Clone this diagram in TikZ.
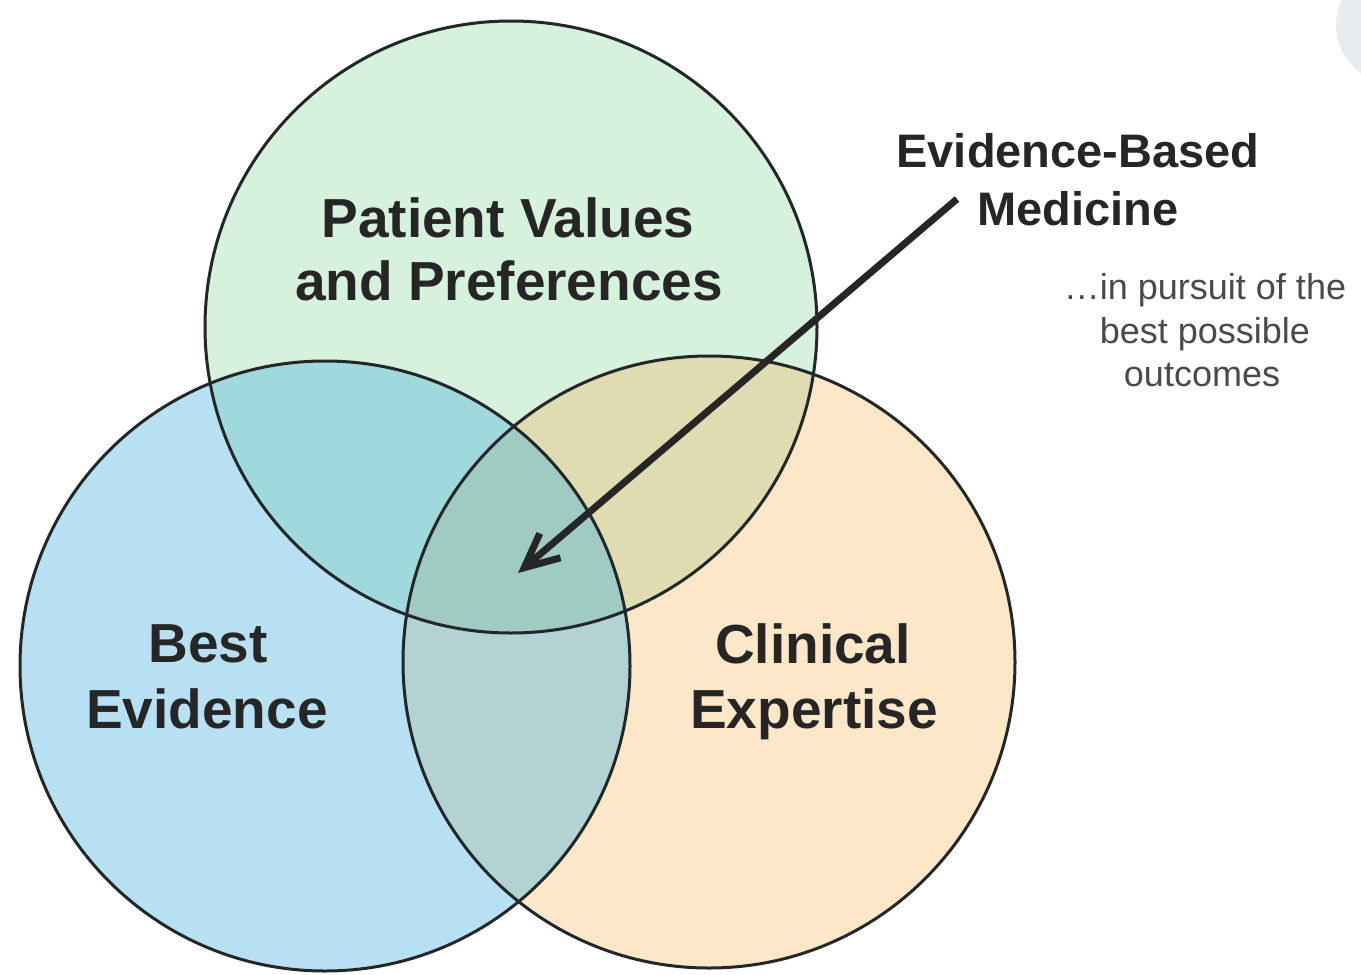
\documentclass[tikz,border=0pt]{standalone}
\usepackage{fontspec}
\setmainfont{Liberation Sans}
\usetikzlibrary{arrows.meta}
\definecolor{ctopc}{HTML}{D6F1DC}
\definecolor{cleftc}{HTML}{B7E0F3}
\definecolor{crightc}{HTML}{FCE7C9}
\definecolor{ctl}{HTML}{9FD9DE}
\definecolor{ctr}{HTML}{DFDCB1}
\definecolor{clr}{HTML}{B2D2D3}
\definecolor{cmid}{HTML}{9FCBC3}
\definecolor{outl}{HTML}{222828}
\definecolor{txt}{HTML}{262626}
\definecolor{subtxt}{HTML}{4A4A4A}
\definecolor{blob}{HTML}{E8ECEF}
\def\ctop{(511,327) circle[radius=306]}
\def\cleft{(325,666) circle[radius=305]}
\def\cright{(709,662) circle[radius=306]}
\tikzset{
  ring/.style={draw=outl, line width=1.5pt},
  big/.style={font=\bfseries\fontsize{27.5}{33}\selectfont, text=txt, inner sep=0pt, anchor=base},
  ebm/.style={font=\bfseries\fontsize{23.5}{28}\selectfont, text=txt, inner sep=0pt, anchor=base},
  sub/.style={font=\fontsize{18}{22}\selectfont, text=subtxt, inner sep=0pt, anchor=base},
  pointer/.style={draw=txt, line width=3.5pt, -{Straight Barb[length=17pt,width=16pt]}}
}
\begin{document}
\begin{tikzpicture}[x=0.5pt,y=-0.5pt]
\useasboundingbox (0,0) rectangle (1361,975);
% faint grey disk at top right corner
\begin{scope}
  \clip (0,0) rectangle (1361,975);
  \fill[blob] (1395,25) circle[radius=59];
\end{scope}
% circle fills
\fill[ctopc] \ctop;
\fill[cleftc] \cleft;
\fill[crightc] \cright;
\begin{scope}\clip \ctop; \fill[ctl] \cleft; \end{scope}
\begin{scope}\clip \ctop; \fill[ctr] \cright; \end{scope}
\begin{scope}\clip \cleft; \fill[clr] \cright; \end{scope}
\begin{scope}\clip \ctop; \clip \cleft; \fill[cmid] \cright; \end{scope}
% outlines
\draw[ring] \ctop;
\draw[ring] \cleft;
\draw[ring] \cright;
% labels
\node[big] (pv1) at (508,237) {Patient Values};
\node[big] (pv2) at (509,300) {and Preferences};
\node[big] (be1) at (208,662) {Best};
\node[big] (be2) at (207,728) {Evidence};
\node[big] (ce1) at (813,663) {Clinical};
\node[big] (ce2) at (814,728) {Expertise};
\node[ebm] (ebm1) at (1078,167) {Evidence-Based};
\node[ebm] (ebm2) at (1078,225) {Medicine};
\node[sub] (s1) at (1205,299) {…in pursuit of the};
\node[sub] (s2) at (1205,343) {best possible};
\node[sub] (s3) at (1202,386) {outcomes};
% arrow
\coordinate (astart) at (957,199);
\coordinate (atip) at (518,573);
\draw[pointer] (astart) -- (atip);
\end{tikzpicture}
\end{document}
